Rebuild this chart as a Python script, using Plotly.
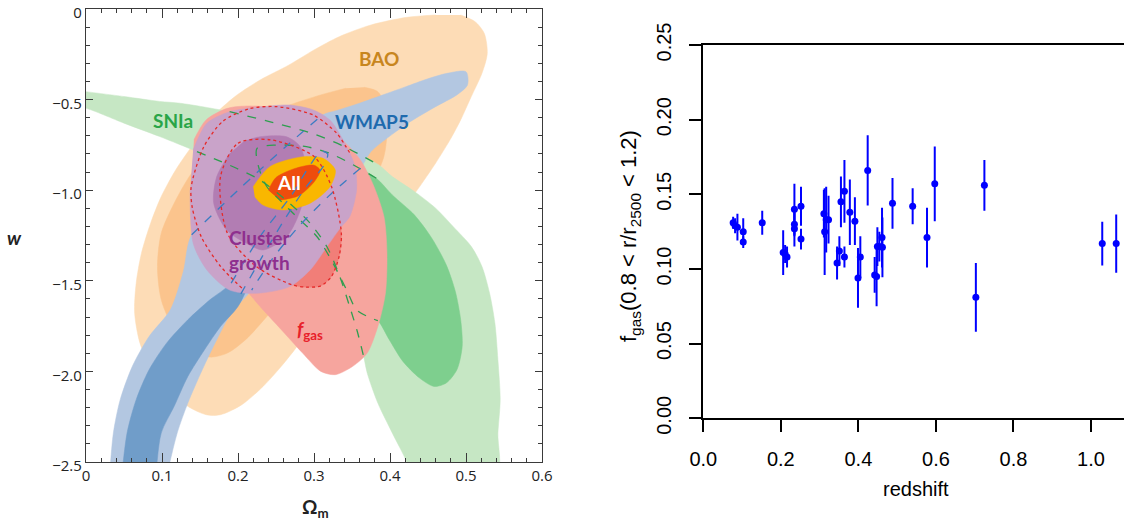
import plotly.graph_objects as go

# ---------------- Left panel: contour regions (Omega_m, w) ----------------
bao_out_om = [0.493,0.512,0.524,0.528,0.521,0.507,0.493,0.479,0.460,0.436,0.413,0.384,0.356,0.328,0.304,0.281,0.257,0.233,0.205,0.177,0.158,0.134,0.111,0.087,0.071,0.064,0.066,0.073,0.085,0.099,0.118,0.142,0.167,0.196,0.229,0.267,0.300,0.333,0.375,0.422,0.460]
bao_out_w = [-0.033,-0.07,-0.134,-0.245,-0.355,-0.483,-0.612,-0.722,-0.851,-0.998,-1.127,-1.274,-1.421,-1.568,-1.697,-1.844,-1.972,-2.083,-2.184,-2.239,-2.239,-2.193,-2.110,-1.991,-1.844,-1.678,-1.513,-1.347,-1.182,-1.035,-0.888,-0.741,-0.594,-0.483,-0.392,-0.309,-0.226,-0.153,-0.088,-0.046,-0.033]

bao_in_om = [0.366,0.384,0.394,0.396,0.392,0.375,0.347,0.309,0.271,0.238,0.210,0.186,0.163,0.139,0.116,0.099,0.094,0.099,0.116,0.139,0.172,0.215,0.262,0.309,0.342]
bao_in_w = [-0.432,-0.456,-0.539,-0.686,-0.814,-0.980,-1.145,-1.347,-1.531,-1.697,-1.825,-1.899,-1.921,-1.880,-1.770,-1.605,-1.421,-1.237,-1.072,-0.906,-0.759,-0.631,-0.539,-0.474,-0.437]

sn_out_om = [-0.01,0.0,0.05,0.097,0.124,0.189,0.24,0.30,0.34,0.385,0.403,0.432,0.460,0.483,0.507,0.521,0.531,0.538,0.542,0.545,0.542,0.540,0.427,0.422,0.403,0.384,0.370,0.366,0.357,0.347,0.334,0.317,0.295,0.268,0.229,0.198,0.146,0.097,0.05,0.0,-0.01]
sn_out_w = [-0.45,-0.456,-0.483,-0.510,-0.520,-0.567,-0.62,-0.69,-0.76,-0.86,-0.925,-1.007,-1.099,-1.200,-1.311,-1.421,-1.568,-1.733,-1.936,-2.156,-2.340,-2.58,-2.58,-2.5,-2.34,-2.175,-2.009,-1.93,-1.78,-1.643,-1.477,-1.312,-1.183,-1.072,-0.944,-0.879,-0.787,-0.704,-0.630,-0.548,-0.545]

sn_in_om = [0.225,0.251,0.290,0.321,0.352,0.382,0.403,0.432,0.455,0.474,0.486,0.493,0.495,0.488,0.474,0.458,0.439,0.417,0.399,0.384,0.372,0.356,0.343,0.325,0.304,0.277,0.255,0.238,0.227]
sn_in_w = [-0.769,-0.751,-0.760,-0.797,-0.861,-0.934,-1.026,-1.136,-1.265,-1.412,-1.559,-1.715,-1.862,-1.991,-2.064,-2.083,-2.037,-1.945,-1.825,-1.72,-1.70,-1.661,-1.551,-1.403,-1.257,-1.146,-1.054,-0.981,-0.870]

wm_out_om = [0.031,0.036,0.045,0.061,0.083,0.111,0.128,0.139,0.20,0.26,0.311,0.33,0.36,0.39,0.42,0.45,0.475,0.500,0.502,0.488,0.460,0.427,0.399,0.375,0.361,0.32,0.28,0.245,0.218,0.191,0.172,0.153,0.134,0.120,0.106]
wm_out_w = [-2.58,-2.34,-2.156,-1.972,-1.807,-1.660,-1.45,-1.246,-1.00,-0.77,-0.585,-0.56,-0.52,-0.475,-0.43,-0.385,-0.355,-0.346,-0.419,-0.474,-0.539,-0.621,-0.704,-0.787,-0.879,-1.03,-1.20,-1.38,-1.551,-1.678,-1.825,-1.991,-2.175,-2.340,-2.58]

wm_in_om = [0.047,0.054,0.066,0.083,0.106,0.134,0.163,0.191,0.23,0.27,0.295,0.31,0.318,0.312,0.29,0.26,0.23,0.20,0.177,0.156,0.134,0.116,0.099,0.092]
wm_in_w = [-2.58,-2.34,-2.156,-1.991,-1.844,-1.715,-1.605,-1.513,-1.25,-1.03,-0.86,-0.785,-0.80,-0.87,-0.98,-1.17,-1.38,-1.642,-1.752,-1.880,-2.028,-2.193,-2.34,-2.58]

fg_out_om = [0.142,0.158,0.186,0.215,0.252,0.300,0.337,0.361,0.377,0.392,0.396,0.394,0.384,0.370,0.351,0.328,0.309,0.285,0.257,0.229,0.210,0.177,0.149,0.139]
fg_out_w = [-0.722,-0.612,-0.548,-0.535,-0.548,-0.612,-0.722,-0.833,-0.961,-1.145,-1.347,-1.568,-1.752,-1.899,-1.972,-2.018,-2.0,-1.899,-1.770,-1.642,-1.550,-1.421,-1.237,-0.980]

fg_in_om = [0.177,0.200,0.243,0.300,0.323,0.336,0.333,0.323,0.309,0.290,0.271,0.224,0.186,0.177]
fg_in_w = [-0.925,-0.741,-0.722,-0.814,-0.980,-1.237,-1.366,-1.476,-1.528,-1.535,-1.522,-1.421,-1.237,-0.925]

cg_out_om = [0.141,0.159,0.189,0.233,0.268,0.299,0.321,0.343,0.354,0.356,0.347,0.336,0.317,0.295,0.268,0.225,0.189,0.159,0.141,0.137]
cg_out_w = [-0.778,-0.631,-0.567,-0.539,-0.530,-0.557,-0.613,-0.760,-0.870,-0.999,-1.146,-1.201,-1.312,-1.440,-1.532,-1.569,-1.551,-1.440,-1.293,-0.999]

cg_in_om = [0.207,0.229,0.264,0.282,0.290,0.286,0.277,0.264,0.233,0.211,0.185,0.168,0.172,0.189]
cg_in_w = [-0.732,-0.705,-0.705,-0.760,-0.90,-1.054,-1.164,-1.257,-1.33,-1.293,-1.220,-1.072,-0.925,-0.797]

all_out_om = [0.220,0.242,0.286,0.312,0.328,0.321,0.295,0.260,0.233,0.222]
all_out_w = [-0.981,-0.870,-0.815,-0.824,-0.889,-0.981,-1.072,-1.109,-1.082,-1.036]

all_in_om = [0.240,0.250,0.275,0.300,0.308,0.300,0.280,0.255]
all_in_w = [-1.000,-0.930,-0.880,-0.862,-0.890,-0.955,-1.030,-1.055]

# dashed / dotted outlines seen through the cluster-growth region
gd1_om = [0.189,0.24,0.30,0.34,0.385]
gd1_w = [-0.567,-0.62,-0.69,-0.76,-0.86]
gd2_om = [0.146,0.198,0.229,0.268,0.295,0.317,0.334,0.347,0.357,0.366]
gd2_w = [-0.787,-0.879,-0.944,-1.072,-1.183,-1.312,-1.477,-1.643,-1.78,-1.93]
gd3_om = [0.382,0.352,0.321,0.290,0.251,0.225,0.227,0.238,0.255,0.277,0.304,0.325,0.343,0.356,0.372,0.384]
gd3_w = [-0.934,-0.861,-0.797,-0.760,-0.751,-0.769,-0.870,-0.981,-1.054,-1.146,-1.257,-1.403,-1.551,-1.661,-1.70,-1.72]

bd1_om = [0.139,0.20,0.26,0.311]
bd1_w = [-1.246,-1.00,-0.77,-0.585]
bd2_om = [0.191,0.23,0.27,0.295,0.31,0.318,0.312,0.29,0.26,0.23,0.20]
bd2_w = [-1.513,-1.25,-1.03,-0.86,-0.785,-0.80,-0.87,-0.98,-1.17,-1.38,-1.60]
bd3_om = [0.361,0.32,0.28,0.245,0.218]
bd3_w = [-0.879,-1.03,-1.20,-1.38,-1.551]

rd1_om = [0.205,0.177,0.152,0.140,0.138,0.141,0.155,0.18,0.215,0.251,0.299,0.330,0.342,0.348]
rd1_w = [-1.54,-1.42,-1.26,-1.10,-1.00,-0.93,-0.76,-0.62,-0.55,-0.539,-0.585,-0.686,-0.76,-0.80]
rd2_om = fg_in_om
rd2_w = fg_in_w

# region labels
lab_text = ["BAO", "SNIa", "WMAP5", "All", "Cluster<br>growth", "<i>f</i><sub>gas</sub>"]
lab_om = [0.385, 0.114, 0.376, 0.267, 0.229, 0.295]
lab_w = [-0.272, -0.616, -0.621, -0.956, -1.33, -1.77]
lab_col = ["#C8861E", "#2AA548", "#1E6AAE", "#FFFFFF", "#8E2F8E", "#E8202A"]

xt_vals = [0, 0.1, 0.2, 0.3, 0.4, 0.5, 0.6]
xt_text = ["0", "0.1", "0.2", "0.3", "0.4", "0.5", "0.6"]
yt_vals = [0, -0.5, -1.0, -1.5, -2.0, -2.5]
yt_text = ["0", "\u22120.5", "\u22121.0", "\u22121.5", "\u22122.0", "\u22122.5"]

# ---------------- Right panel: gas fraction vs redshift ----------------
z = [0.077,0.082,0.088,0.103,0.103,0.152,0.206,0.211,0.216,0.235,0.235,0.235,0.252,0.252,
     0.311,0.313,0.317,0.323,0.345,0.351,0.355,0.364,0.364,0.378,0.391,0.399,0.405,0.424,
     0.442,0.447,0.449,0.454,0.461,0.462,0.488,0.540,0.577,0.597,0.703,0.725,1.029,1.065]
fgas = [0.131,0.129,0.128,0.125,0.118,0.131,0.111,0.110,0.108,0.140,0.130,0.127,0.142,0.120,
        0.137,0.125,0.133,0.133,0.104,0.112,0.145,0.152,0.108,0.138,0.132,0.094,0.108,0.166,
        0.096,0.095,0.115,0.115,0.121,0.1145,0.144,0.142,0.121,0.157,0.081,0.156,0.117,0.117]
ferr = [0.004,0.005,0.009,0.009,0.004,0.008,0.015,0.006,0.007,0.017,0.008,0.012,0.013,0.007,
        0.016,0.029,0.022,0.016,0.011,0.010,0.017,0.021,0.007,0.022,0.016,0.020,0.014,0.0235,
        0.012,0.020,0.013,0.010,0.020,0.020,0.017,0.012,0.020,0.025,0.023,0.017,0.0146,0.0195]

zt_vals = [0.0, 0.2, 0.4, 0.6, 0.8, 1.0]
ft_vals = [0.00, 0.05, 0.10, 0.15, 0.20, 0.25]

fig = go.Figure()

def region(om, w, color):
    fig.add_trace(go.Scatter(x=om, y=w, mode="lines", fill="toself", fillcolor=color,
                             line=dict(color=color, width=0.5, shape="spline", smoothing=0.8),
                             hoverinfo="skip", showlegend=False, xaxis="x", yaxis="y"))

def outline(om, w, color, dash, width=1.3):
    fig.add_trace(go.Scatter(x=om, y=w, mode="lines",
                             line=dict(color=color, width=width, dash=dash, shape="spline", smoothing=0.8),
                             hoverinfo="skip", showlegend=False, xaxis="x", yaxis="y"))

region(bao_out_om, bao_out_w, "#FDDCB6")
region(bao_in_om, bao_in_w, "#FBC48D")
region(sn_out_om, sn_out_w, "#C6E7C4")
region(sn_in_om, sn_in_w, "#7ECF8E")
region(wm_out_om, wm_out_w, "#B3C7E1")
region(wm_in_om, wm_in_w, "#709DC9")
region(fg_out_om, fg_out_w, "#F6A59E")
region(fg_in_om, fg_in_w, "#F17E78")
region(cg_out_om, cg_out_w, "#C9A3C9")
region(cg_in_om, cg_in_w, "#B27DB3")
region(all_out_om, all_out_w, "#F9B700")
region(all_in_om, all_in_w, "#EE4D0D")

outline(gd1_om, gd1_w, "#2E9E4F", "dash")
outline(gd2_om, gd2_w, "#2E9E4F", "dash")
outline(gd3_om, gd3_w, "#2E9E4F", "dash")
outline(bd1_om, bd1_w, "#3C7CC2", "dash")
outline(bd2_om, bd2_w, "#3C7CC2", "dash")
outline(bd3_om, bd3_w, "#3C7CC2", "dash")
outline(rd1_om, rd1_w, "#E52A2A", "dot")
outline(rd2_om, rd2_w, "#E52A2A", "dot")

for t, xo, yo, c in zip(lab_text, lab_om, lab_w, lab_col):
    fig.add_annotation(x=xo, y=yo, xref="x", yref="y", text="<b>" + t + "</b>", showarrow=False,
                       xanchor="center", yanchor="middle",
                       font=dict(family="Lato, Open Sans, sans-serif", size=19, color=c))

fig.add_trace(go.Scatter(x=z, y=fgas, mode="markers", xaxis="x2", yaxis="y2",
                         marker=dict(color="#0000FF", size=7),
                         error_y=dict(type="data", array=ferr, color="#0000FF", thickness=2, width=0),
                         hoverinfo="skip", showlegend=False))

frame = "#3a3a3a"
fig.update_layout(
    width=1124, height=520, margin=dict(l=0, r=0, t=0, b=0, pad=0), autosize=False,
    showlegend=False,
    paper_bgcolor="white", plot_bgcolor="white",
    xaxis=dict(domain=[86/1124, 542/1124], range=[0, 0.6], anchor="y", automargin=False,
               tickvals=xt_vals, ticktext=xt_text, ticks="inside", ticklen=9, tickwidth=1.2,
               tickcolor=frame, showline=True, linecolor=frame, linewidth=1.3, mirror="allticks",
               showgrid=False, zeroline=False, ticklabeloverflow="allow",
               minor=dict(dtick=0.02, ticks="inside", ticklen=4, tickcolor=frame, tickwidth=1),
               tickfont=dict(family="Open Sans", size=15, color="#222")),
    yaxis=dict(domain=[58/520, 511/520], range=[-2.5, 0], anchor="x", automargin=False,
               tickvals=yt_vals, ticktext=yt_text, ticks="inside", ticklen=7, tickwidth=1.2,
               tickcolor=frame, showline=True, linecolor=frame, linewidth=1.3, mirror="allticks",
               showgrid=False, zeroline=False, ticklabeloverflow="allow", ticklabelshift=4,
               minor=dict(dtick=0.1, ticks="inside", ticklen=4, tickcolor=frame, tickwidth=1),
               tickfont=dict(family="Open Sans", size=15, color="#222")),
    xaxis2=dict(domain=[703.3/1124, 1.0], range=[0, 1.0851], anchor="y2", automargin=False,
                tickvals=zt_vals, tickformat=".1f", ticks="outside", ticklen=12, tickwidth=1.5,
                tickcolor="black", showline=True, linecolor="black", linewidth=1.5, mirror=True,
                showgrid=False, zeroline=False, ticklabelstandoff=10, ticklabeloverflow="allow",
                tickfont=dict(family="Liberation Sans, Arial", size=20, color="black")),
    yaxis2=dict(domain=[101.7/520, 475/520], range=[0, 0.25], anchor="x2", automargin=False,
                tickvals=ft_vals, tickformat=".2f", ticks="outside", ticklen=13, tickwidth=1.5,
                tickcolor="black", showline=True, linecolor="black", linewidth=1.5,
                showgrid=False, zeroline=False, tickangle=-90, ticklabelstandoff=10,
                ticklabeloverflow="allow",
                tickfont=dict(family="Liberation Sans, Arial", size=20, color="black")),
)

def paper_text(xp, yp, text, font, angle=0):
    fig.add_annotation(x=xp / 1124, y=1 - yp / 520, xref="paper", yref="paper", showarrow=False,
                       xanchor="center", yanchor="middle", textangle=angle, text=text, font=font)

paper_text(14, 238, "<b><i>w</i></b>", dict(family="Lato, sans-serif", size=19, color="#222"))
paper_text(315, 508, "<b>\u03a9<sub>m</sub></b>", dict(family="Lato, sans-serif", size=19, color="#222"))
paper_text(916, 489, "redshift", dict(family="Liberation Sans, Arial", size=20, color="black"))
paper_text(630, 236, "f<sub>gas</sub>(0.8 &lt; r/r<sub>2500</sub> &lt; 1.2)",
           dict(family="Liberation Sans, Arial", size=22, color="black"), angle=-90)

fig.write_html("out.html", config={"displayModeBar": False},
               post_script="document.body.style.margin='0px';document.body.style.overflow='hidden';")
